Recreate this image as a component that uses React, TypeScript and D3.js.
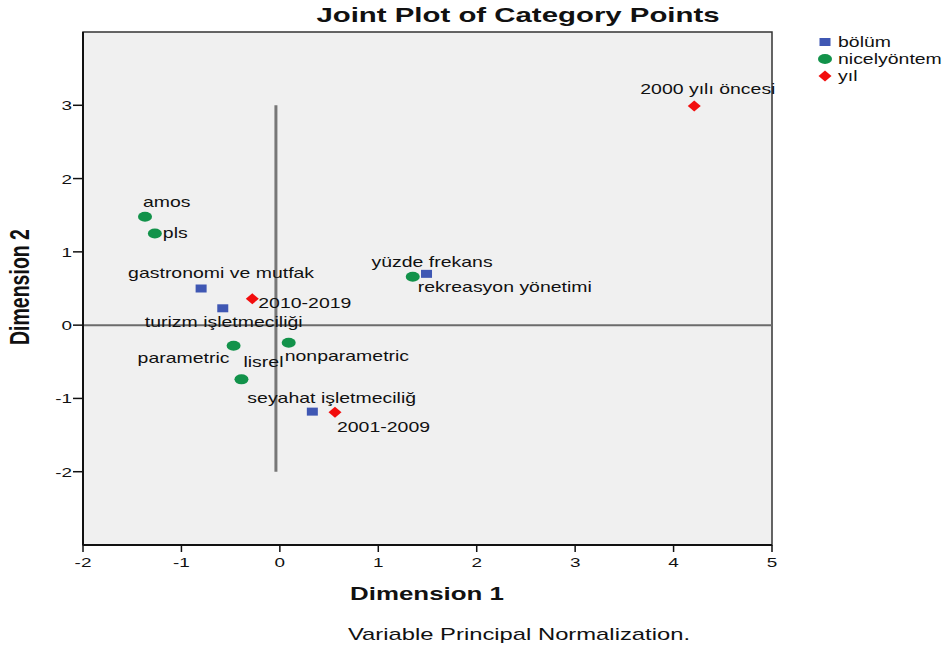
import React from "react";
import * as d3 from "d3";

// ---- data ----
const bolumNames = ["gastronomi ve mutfak", "turizm işletmeciliği", "yüzde frekans", "seyahat işletmeciliğ"];
const bolumX = [-0.8, -0.58, 1.49, 0.33];
const bolumY = [0.5, 0.23, 0.7, -1.18];

const yontemNames = ["amos", "pls", "rekreasyon yönetimi", "parametric", "nonparametric", "lisrel"];
const yontemX = [-1.37, -1.27, 1.35, -0.47, 0.09, -0.39];
const yontemY = [1.48, 1.25, 0.66, -0.28, -0.24, -0.74];

const yilNames = ["2000 yılı öncesi", "2010-2019", "2001-2009"];
const yilX = [4.21, -0.28, 0.56];
const yilY = [2.99, 0.36, -1.19];

const xTicks = [-2, -1, 0, 1, 2, 3, 4, 5];
const yTicks = [-2, -1, 0, 1, 2, 3];
const legendNames = ["bölüm", "nicelyöntem", "yıl"];
const refV = { x: -0.04, y0: -2, y1: 3 };

// ---- layout (label offsets in px relative to point) ----
const bolumLab = [[-73, -11], [-78, 19], [-55, -7], [-65, -9]];
const yontemLab = [[-2, -10], [8, 4], [5, 15], [-96, 17], [-4, 18], [2, -12]];
const yilLab = [[-54, -12], [6, 9], [2, 20]];

const W = 943, H = 648;
const SX = 1.4;
const LAB = 13.9;
const FONT = "'Liberation Sans', Arial, sans-serif";
const BLUE = "#3f57b3";
const GREEN = "#12924a";
const RED = "#f20d0d";

const x = d3.scaleLinear().domain([-2, 5]).range([83, 772]);
const y = d3.scaleLinear().domain([-3, 4]).range([545, 32]);

function T({ px, py, anchor = "start", size = 13.5, weight = "normal", rot = 0, children }: any) {
  return (
    <text
      transform={`translate(${px},${py}) scale(${SX},1)${rot ? ` rotate(${rot})` : ""}`}
      textAnchor={anchor}
      fontSize={size}
      fontWeight={weight}
      fontFamily={FONT}
      fill="#111"
    >
      {children}
    </text>
  );
}

const Square = ({ cx, cy }: any) => (
  <rect x={cx - 5.5} y={cy - 4} width={11} height={8} fill={BLUE} />
);
const Dot = ({ cx, cy }: any) => <ellipse cx={cx} cy={cy} rx={7} ry={5} fill={GREEN} />;
const Diamond = ({ cx, cy }: any) => (
  <path d={`M${cx - 6.5},${cy} L${cx},${cy - 5.5} L${cx + 6.5},${cy} L${cx},${cy + 5.5} Z`} fill={RED} />
);

export default function App() {
  const [x0, x1] = x.range();
  const [yb, yt] = y.range();
  return (
    <svg width={W} height={H} style={{ position: "absolute", left: 0, top: 0, background: "#fff" }}>
      <T px={518} py={22} anchor="middle" size={21} weight="bold">Joint Plot of Category Points</T>

      <rect x={x0} y={yt} width={x1 - x0} height={yb - yt} fill="#f0f0f0" stroke="#333" strokeWidth={1.5} />

      {/* reference lines */}
      <line x1={x0} x2={x1} y1={y(0)} y2={y(0)} stroke="#6b6b6b" strokeWidth={2} />
      <line x1={x(refV.x)} x2={x(refV.x)} y1={y(refV.y1)} y2={y(refV.y0)} stroke="#777" strokeWidth={3} />

      {/* axes */}
      <line x1={x0} x2={x0} y1={yt} y2={yb} stroke="#111" strokeWidth={2} />
      <line x1={x0} x2={x1} y1={yb} y2={yb} stroke="#111" strokeWidth={2} />
      {yTicks.map((t) => (
        <g key={"yt" + t}>
          <line x1={x0 - 10} x2={x0} y1={y(t)} y2={y(t)} stroke="#111" strokeWidth={1.5} />
          <T px={x0 - 11} py={y(t) + 5} anchor="end">{t}</T>
        </g>
      ))}
      {xTicks.map((t) => (
        <g key={"xt" + t}>
          <line x1={x(t)} x2={x(t)} y1={yb} y2={yb + 7} stroke="#111" strokeWidth={1.5} />
          <T px={x(t)} py={567} anchor="middle">{t}</T>
        </g>
      ))}

      <T px={427} py={600} anchor="middle" size={18.5} weight="bold">Dimension 1</T>
      <T px={29} py={287} anchor="middle" size={19.5} weight="bold" rot={-90}>Dimension 2</T>
      <T px={519} py={640} anchor="middle" size={17}>Variable Principal Normalization.</T>

      {/* points */}
      {bolumNames.map((n, i) => (
        <g key={n}>
          <Square cx={x(bolumX[i])} cy={y(bolumY[i])} />
          <T size={LAB} px={x(bolumX[i]) + bolumLab[i][0]} py={y(bolumY[i]) + bolumLab[i][1]}>{n}</T>
        </g>
      ))}
      {yontemNames.map((n, i) => (
        <g key={n}>
          <Dot cx={x(yontemX[i])} cy={y(yontemY[i])} />
          <T size={LAB} px={x(yontemX[i]) + yontemLab[i][0]} py={y(yontemY[i]) + yontemLab[i][1]}>{n}</T>
        </g>
      ))}
      {yilNames.map((n, i) => (
        <g key={n}>
          <Diamond cx={x(yilX[i])} cy={y(yilY[i])} />
          <T size={LAB} px={x(yilX[i]) + yilLab[i][0]} py={y(yilY[i]) + yilLab[i][1]}>{n}</T>
        </g>
      ))}

      {/* legend */}
      <Square cx={825} cy={42} />
      <Dot cx={825} cy={59} />
      <Diamond cx={825} cy={76} />
      {legendNames.map((n, i) => (
        <T key={n} size={LAB} px={838} py={47 + i * 17}>{n}</T>
      ))}
    </svg>
  );
}
